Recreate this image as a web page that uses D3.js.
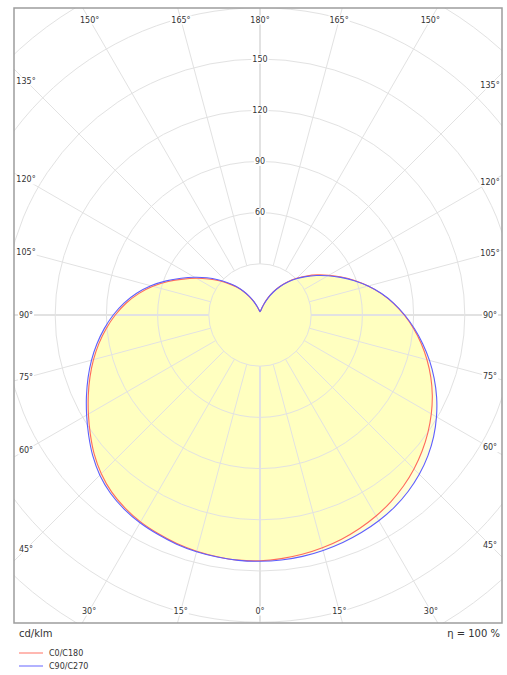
<!DOCTYPE html>
<html>
<head>
<meta charset="utf-8">
<script src="https://cdn.jsdelivr.net/npm/d3@7"></script>
<style>
  body { margin: 0; background: #fff; }
  text { font-family: "DejaVu Sans", Verdana, sans-serif; fill: #333; }
</style>
</head>
<body>
<div class="chart"></div>
<script>
// gamma angles (deg), 0 = straight down
const gammas = d3.range(0, 181, 5);

// luminous intensity, cd/klm
const c0 = [144,143.3,142.4,141.2,139.8,138,136,133.6,130.8,127.6,124,120.1,115.9,111.4,106.5,101.3,95.9,90.3,84.5,78.5,72.2,65.6,59,52.6,46.6,41,35.6,30.4,25.4,20.6,15.8,11.2,7.2,4.3,2.8,2.2,2];
const c180 = [144.4,144.2,143.8,143.3,142.5,141.3,140,138,135.3,131.5,126.8,121.4,116.1,111,106,101,95.8,90.4,84.8,78.8,72.2,65,57.3,49.8,43,36.8,31.2,26,21.4,16.8,12.5,8.8,5.8,3.9,2.8,2.3,2];
const c90 = [144.3,144.1,143.6,142.8,141.8,140.6,139.2,137.4,135,132,128.4,124.2,119.4,114.2,108.6,102.8,96.8,90.8,84.8,78.7,72.3,65.6,58.8,52.2,46,40.3,35,30,25,20.2,15.4,10.8,6.9,4.1,2.7,2.2,2];
const c270 = [144.5,144.3,144,143.6,142.9,141.8,140.6,138.8,136.3,132.7,128,122.6,117.3,112.2,107.2,102.2,97,91.6,86,80,73.4,66.2,58.5,51,44.2,38,32.2,26.8,22,17.2,12.8,9,6,4,2.9,2.4,2];

const ringValues = d3.range(30, 250, 30);
const ringLabels = [60, 90, 120, 150];
const spokeAngles = d3.range(0, 181, 15);

const W = 507, H = 675;
const frame = {left: 14, top: 8, right: 502, bottom: 623};
const cx = 260, cy = 315;

const svg = d3.select('.chart')
    .append('svg')
    .attr('width', W)
    .attr('height', H);

const r = d3.scaleLinear()
    .domain([0, 30])
    .range([0, 51.2]);

svg.append('clipPath')
    .attr('id', 'plot-clip')
    .append('rect')
    .attr('x', frame.left)
    .attr('y', frame.top)
    .attr('width', frame.right - frame.left)
    .attr('height', frame.bottom - frame.top);

const plot = svg.append('g')
    .attr('clip-path', 'url(#plot-clip)');

const g = plot.append('g')
    .attr('transform', 'translate(' + cx + ',' + cy + ')');

const rad = d => d * Math.PI / 180;

// both halves joined into one closed outline
function outline(right, left) {
    const pts = [];
    gammas.forEach((gm, i) => pts.push([Math.PI - rad(gm), r(right[i])]));
    for (let i = gammas.length - 2; i > 0; i--) {
        pts.push([Math.PI + rad(gammas[i]), r(left[i])]);
    }
    return pts;
}

const line = d3.lineRadial()
    .angle(d => d[0])
    .radius(d => d[1])
    .curve(d3.curveCatmullRomClosed.alpha(0.5));

const series = [
    {name: 'C0/C180', pts: outline(c0, c180), color: '#ff6a5c'},
    {name: 'C90/C270', pts: outline(c90, c270), color: '#5e5eff'}
];

g.selectAll('.fill')
    .data(series)
    .enter()
    .append('path')
    .attr('class', 'fill')
    .attr('d', d => line(d.pts))
    .attr('fill', '#ffff90')
    .attr('fill-opacity', 0.34)
    .attr('stroke', 'none');

// grid
g.selectAll('.ring')
    .data(ringValues)
    .enter()
    .append('circle')
    .attr('r', d => r(d))
    .attr('fill', 'none')
    .attr('stroke', '#e2e2e2')
    .attr('stroke-width', 1);

const spokes = [];
spokeAngles.forEach(a => {
    spokes.push(a);
    if (a > 0 && a < 180) spokes.push(-a);
});

g.selectAll('.spoke')
    .data(spokes)
    .enter()
    .append('line')
    .attr('x1', d => r(30) * Math.sin(rad(d)))
    .attr('y1', d => r(30) * Math.cos(rad(d)))
    .attr('x2', d => 600 * Math.sin(rad(d)))
    .attr('y2', d => 600 * Math.cos(rad(d)))
    .attr('stroke', '#e2e2e2')
    .attr('stroke-width', d => (d % 90 == 0) ? 2 : 1);

g.selectAll('.curve')
    .data(series)
    .enter()
    .append('path')
    .attr('class', 'curve')
    .attr('d', d => line(d.pts))
    .attr('fill', 'none')
    .attr('stroke', d => d.color)
    .attr('stroke-width', 1.1);

// labels with white backing
function label(parent, x, y, txt, size) {
    const t = parent.append('text')
        .attr('x', x)
        .attr('y', y)
        .attr('text-anchor', 'middle')
        .attr('dominant-baseline', 'central')
        .style('font-size', size + 'px')
        .text(txt);
    const b = t.node().getBBox();
    parent.insert('rect', 'text')
        .attr('x', b.x - 1)
        .attr('y', b.y)
        .attr('width', b.width + 2)
        .attr('height', b.height)
        .attr('fill', '#fff');
}

ringLabels.forEach(v => label(plot, cx, cy - r(v), v, 8));

const inset = {left: 26, right: 490, top: 20, bottom: 611};
spokes.forEach(a => {
    const dx = Math.sin(rad(a)), dy = Math.cos(rad(a));
    let t = Infinity;
    if (dx > 1e-9) t = Math.min(t, (inset.right - cx) / dx);
    if (dx < -1e-9) t = Math.min(t, (inset.left - cx) / dx);
    if (dy > 1e-9) t = Math.min(t, (inset.bottom - cy) / dy);
    if (dy < -1e-9) t = Math.min(t, (inset.top - cy) / dy);
    label(plot, cx + t * dx, cy + t * dy, Math.abs(a) + '°', 8);
});

svg.append('rect')
    .attr('x', frame.left)
    .attr('y', frame.top)
    .attr('width', frame.right - frame.left)
    .attr('height', frame.bottom - frame.top)
    .attr('fill', 'none')
    .attr('stroke', '#9d9d9d')
    .attr('stroke-width', 1.5);

svg.append('text')
    .attr('x', 19)
    .attr('y', 633)
    .attr('dominant-baseline', 'central')
    .style('font-size', '10px')
    .text('cd/klm');

svg.append('text')
    .attr('x', 500)
    .attr('y', 633)
    .attr('text-anchor', 'end')
    .attr('dominant-baseline', 'central')
    .style('font-size', '10px')
    .text('η = 100 %');

const legend = svg.selectAll('.legend')
    .data(series)
    .enter()
    .append('g')
    .attr('transform', (d, i) => 'translate(19,' + (653 + i * 13) + ')');

legend.append('line')
    .attr('x1', 0)
    .attr('x2', 24)
    .attr('stroke', d => d.color)
    .attr('stroke-opacity', 0.8)
    .attr('stroke-width', 1.2);

legend.append('text')
    .attr('x', 30)
    .attr('dominant-baseline', 'central')
    .style('font-size', '8px')
    .text(d => d.name);
</script>
</body>
</html>
